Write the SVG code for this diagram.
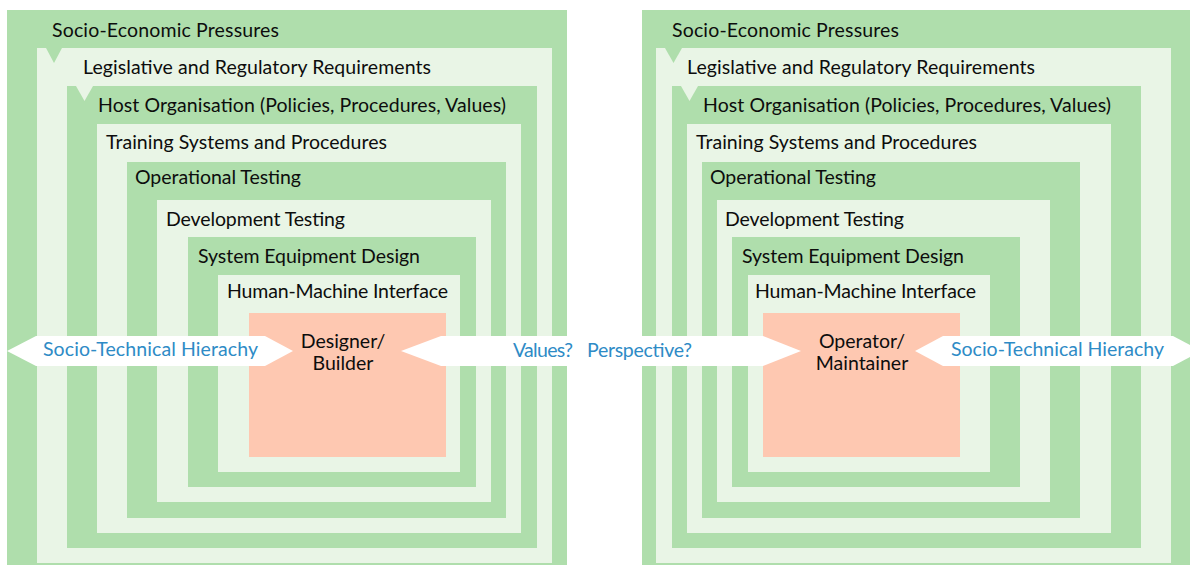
<svg xmlns="http://www.w3.org/2000/svg" width="1190" height="565" viewBox="0 0 1190 565">
  <style>
    .g { fill: #AFDEAC; }
    .l { fill: #E9F5E6; }
    .core { fill: #FEC8B1; }
    .t { font-family: Lato, "Open Sans", "Liberation Sans", sans-serif; font-size: 19.5px; fill: #0d0d0d; }
    .c { text-anchor: middle; }
    .b { font-family: Lato, "Open Sans", "Liberation Sans", sans-serif; font-size: 19.5px; fill: #2E8BC6; }
    .arrow { fill: #FFFFFF; }
  </style>
  <rect width="1190" height="565" fill="#FFFFFF"/>

  <!-- Left panel -->
  <g id="L1"><rect class="g" x="7" y="10" width="560" height="560"/><text class="t" x="52" y="37" textLength="227">Socio-Economic Pressures</text></g>
  <g id="L2"><rect class="l" x="37" y="48" width="515" height="515"/><polygon class="g" points="46,48 62,48 54,63"/><text class="t" x="83" y="74" textLength="348">Legislative and Regulatory Requirements</text></g>
  <g id="L3"><rect class="g" x="67" y="86" width="470" height="462"/><polygon class="l" points="76,86 93,86 84.5,101"/><text class="t" x="98" y="112" textLength="408">Host Organisation (Policies, Procedures, Values)</text></g>
  <g id="L4"><rect class="l" x="97" y="124" width="424" height="409"/><text class="t" x="106" y="149" textLength="281">Training Systems and Procedures</text></g>
  <g id="L5"><rect class="g" x="127" y="162" width="379" height="356"/><text class="t" x="135" y="184" textLength="166">Operational Testing</text></g>
  <g id="L6"><rect class="l" x="157" y="200" width="334" height="302"/><text class="t" x="166" y="226" textLength="179">Development Testing</text></g>
  <g id="L7"><rect class="g" x="188" y="237" width="288" height="250"/><text class="t" x="198" y="263" textLength="222">System Equipment Design</text></g>
  <g id="L8"><rect class="l" x="218" y="275" width="242" height="197"/><text class="t" x="227" y="298" textLength="221">Human-Machine Interface</text></g>
  <g id="L9"><rect class="core" x="249" y="313" width="197" height="144"/><text class="t c" x="343" y="348">Designer/</text><text class="t c" x="343" y="370">Builder</text></g>

  <!-- Right panel -->
  <g id="R1"><rect class="g" x="642" y="10" width="560" height="560"/><text class="t" x="672" y="37" textLength="227">Socio-Economic Pressures</text></g>
  <g id="R2"><rect class="l" x="656" y="48" width="515" height="515"/><polygon class="g" points="665,48 682,48 673.5,63"/><text class="t" x="687" y="74" textLength="348">Legislative and Regulatory Requirements</text></g>
  <g id="R3"><rect class="g" x="672" y="86" width="469" height="462"/><polygon class="l" points="681,86 698,86 689.5,101"/><text class="t" x="703" y="112" textLength="408">Host Organisation (Policies, Procedures, Values)</text></g>
  <g id="R4"><rect class="l" x="687" y="124" width="424" height="409"/><text class="t" x="696" y="149" textLength="281">Training Systems and Procedures</text></g>
  <g id="R5"><rect class="g" x="702" y="162" width="378" height="356"/><text class="t" x="710" y="184" textLength="166">Operational Testing</text></g>
  <g id="R6"><rect class="l" x="717" y="200" width="333" height="302"/><text class="t" x="725" y="226" textLength="179">Development Testing</text></g>
  <g id="R7"><rect class="g" x="732" y="237" width="288" height="250"/><text class="t" x="742" y="263" textLength="222">System Equipment Design</text></g>
  <g id="R8"><rect class="l" x="748" y="275" width="242" height="197"/><text class="t" x="755" y="298" textLength="221">Human-Machine Interface</text></g>
  <g id="R9"><rect class="core" x="763" y="313" width="197" height="144"/><text class="t c" x="862" y="348">Operator/</text><text class="t c" x="862" y="370">Maintainer</text></g>

  <!-- Connectors -->
  <g id="connectors">
    <g id="arrow-left">
      <polygon class="arrow" points="7,351 36,336 265,336 293,351 265,366 36,366"/>
      <text class="b" x="43" y="356" textLength="215">Socio-Technical Hierachy</text>
    </g>
    <g id="arrow-middle">
      <polygon class="arrow" points="401,351 441,336 763,336 801,351 763,366 441,366"/>
      <text class="b" x="513" y="357" textLength="60">Values?</text>
      <text class="b" x="587" y="357" textLength="105">Perspective?</text>
    </g>
    <g id="arrow-right">
      <polygon class="arrow" points="915,351 943,336 1173,336 1201,351 1173,366 943,366"/>
      <text class="b" x="951" y="356" textLength="213">Socio-Technical Hierachy</text>
    </g>
  </g>
</svg>
